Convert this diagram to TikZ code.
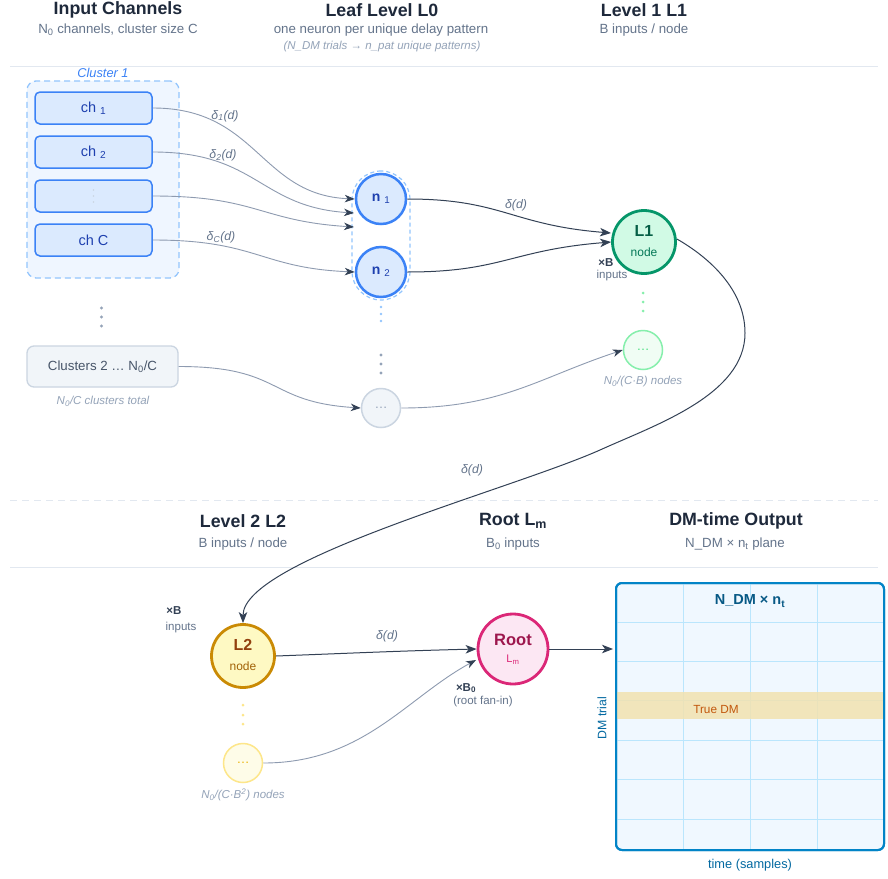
\documentclass[tikz,border=0pt]{standalone}
\usepackage{fontspec}
\setmainfont{Liberation Sans}
\usetikzlibrary{arrows.meta,calc}

\definecolor{ink}{HTML}{1E293B}
\definecolor{subgray}{HTML}{64748B}
\definecolor{notegray}{HTML}{94A3B8}
\definecolor{rulegray}{HTML}{E2E8F0}
\definecolor{edgegray}{HTML}{8E9BB0}
\definecolor{edgedark}{HTML}{334155}
\definecolor{blueA}{HTML}{3B82F6}
\definecolor{blueB}{HTML}{DBEAFE}
\definecolor{blueC}{HTML}{93C5FD}
\definecolor{blueD}{HTML}{EFF6FF}
\definecolor{blueT}{HTML}{1E40AF}
\definecolor{slateF}{HTML}{F1F5F9}
\definecolor{slateS}{HTML}{CBD5E1}
\definecolor{slateT}{HTML}{475569}
\definecolor{greenS}{HTML}{059669}
\definecolor{greenF}{HTML}{D1FAE5}
\definecolor{greenT}{HTML}{065F46}
\definecolor{greenU}{HTML}{047857}
\definecolor{greenL}{HTML}{86EFAC}
\definecolor{greenP}{HTML}{F0FDF4}
\definecolor{greenX}{HTML}{4ADE80}
\definecolor{yelS}{HTML}{CA8A04}
\definecolor{yelF}{HTML}{FEF9C3}
\definecolor{yelT}{HTML}{92400E}
\definecolor{yelU}{HTML}{A16207}
\definecolor{yelL}{HTML}{FDE68A}
\definecolor{yelP}{HTML}{FEFCE8}
\definecolor{yelX}{HTML}{EAB308}
\definecolor{pinkS}{HTML}{DB2777}
\definecolor{pinkF}{HTML}{FCE7F3}
\definecolor{pinkT}{HTML}{9D174D}
\definecolor{gridS}{HTML}{0284C7}
\definecolor{gridF}{HTML}{F0F8FF}
\definecolor{gridL}{HTML}{BAE6FD}
\definecolor{gridT}{HTML}{075985}
\definecolor{gridA}{HTML}{0369A1}
\definecolor{bandF}{HTML}{F2E2B0}
\definecolor{bandT}{HTML}{C2570C}

\newcommand{\fsz}[1]{\fontsize{#1}{#1}\selectfont}

\begin{document}
\begin{tikzpicture}[x=1pt,y=-1pt,
  hdr/.style={font=\fsz{17.8}\bfseries, text=ink, inner sep=0pt},
  subhdr/.style={font=\fsz{13.3}, text=subgray, inner sep=0pt},
  note/.style={font=\fsz{11.5}\itshape, text=notegray, inner sep=0pt},
  dlabel/.style={font=\fsz{12.3}\itshape, text=subgray, inner sep=0pt},
  tiny/.style={font=\fsz{11.5}, text=subgray, inner sep=0pt},
  tinyb/.style={font=\fsz{11.5}\bfseries, text=edgedark, inner sep=0pt},
  clusterbox/.style={draw=blueC, fill=blueD, dashed, dash pattern=on 6pt off 4pt,
    line width=1.3pt, rounded corners=9pt, minimum width=152pt, minimum height=197pt},
  chbox/.style={draw=blueA, fill=blueB, line width=1.5pt, rounded corners=5pt,
    minimum width=117pt, minimum height=32pt, font=\fsz{14.5}, text=blueT},
  restbox/.style={draw=slateS, fill=slateF, line width=1.3pt, rounded corners=7pt,
    minimum width=151pt, minimum height=41pt, font=\fsz{13.3}, text=slateT},
  leaf/.style={circle, draw=blueA, fill=blueB, line width=2.5pt, minimum size=50pt,
    inner sep=0pt, font=\fsz{14}, text=blueT},
  capsule/.style={draw=blueC, dashed, dash pattern=on 4pt off 3pt, line width=1.2pt,
    rounded corners=28.9pt, minimum width=58pt, minimum height=129pt},
  ghost/.style={circle, line width=1.5pt, minimum size=39pt, inner sep=0pt, font=\fsz{13}},
  big/.style={circle, line width=2.8pt, minimum size=63pt, inner sep=0pt},
  inedge/.style={draw=edgegray, line width=0.9pt, -{Stealth[length=10pt,width=7.5pt,inset=3pt,fill=edgedark,color=edgedark]}},
  outedge/.style={draw=edgedark, line width=1pt, -{Stealth[length=11pt,width=8.5pt,inset=3pt]}},
]
\useasboundingbox (0,0) rectangle (888,878);
\fill[white] (0,0) rectangle (888,878);

% ---------- column headings, upper band
\node[hdr] (hIn) at (118,10) {Input Channels};
\node[subhdr] (sIn) at (118,30) {N\textsubscript{0} channels, cluster size C};
\node[hdr] (hL0) at (382,10) {Leaf Level L0};
\node[subhdr] (sL0) at (381,30) {one neuron per unique delay pattern};
\node[note] (nL0) at (382,47) {(N\_DM trials → n\_pat unique patterns)};
\node[hdr] (hL1) at (644,10) {Level 1 L1};
\node[subhdr] (sL1) at (644,30) {B inputs / node};
\draw[rulegray, line width=1pt] (10,66) -- (878,66);

% ---------- input channels
\node[clusterbox] (cl1) at (103,179.5) {};
\node[font=\fsz{12.8}\itshape, text=blueA, inner sep=0pt] (cl1lbl) at (103,73) {Cluster 1};
\node[chbox] (ch1) at (93.5,108) {ch \textsubscript{1}};
\node[chbox] (ch2) at (93.5,152) {ch \textsubscript{2}};
\node[chbox] (chd) at (93.5,196) {};
\node[chbox] (chC) at (93.5,240) {ch C};
\foreach \yy in {-6,0,6} \fill[slateS] ($(chd.center)+(0,\yy)$) circle (0.9pt);
\foreach \yy in {308,317,326} \fill[notegray] (101.5,\yy) circle (1.7pt);
\node[restbox] (rest) at (102.5,366.5) {Clusters 2 … N\textsubscript{0}/C};
\node[note] (restlbl) at (103,401) {N\textsubscript{0}/C clusters total};

% ---------- leaf level
\node[capsule] (cap) at (381,235.5) {};
\node[leaf] (n1) at (381,199) {\textbf{n} \textsubscript{1}};
\node[leaf] (n2) at (381,272) {\textbf{n} \textsubscript{2}};
\foreach \yy in {307,314,321} \fill[blueC] (381,\yy) circle (1.3pt);
\foreach \yy in {355,364,373} \fill[notegray] (381,\yy) circle (1.7pt);
\node[ghost, draw=slateS, fill=slateF, text=notegray] (leafx) at (381,408) {…};

\coordinate (a2) at (354,213);
\coordinate (a3) at (354,227);
\draw[inedge] (ch1.east) .. controls +(105,0) and +(-95,-4) .. (n1.west);
\draw[inedge] (ch2.east) .. controls +(105,0) and +(-95,-6) .. (a2);
\draw[inedge] (chd.east) .. controls +(105,0) and +(-95,-6) .. (a3);
\draw[inedge] (chC.east) .. controls +(105,0) and +(-95,-4) .. (n2.west);
\node[dlabel] (d1) at (225,116) {δ\textsubscript{1}(d)};
\node[dlabel] (d2) at (223,155) {δ\textsubscript{2}(d)};
\node[dlabel] (dC) at (221,237) {δ\textsubscript{C}(d)};
\draw[inedge] (rest.east) .. controls +(105,0) and +(-95,-6) .. (leafx.west);

% ---------- level 1
\node[big, draw=greenS, fill=greenF] (L1) at (644,242) {};
\node[font=\fsz{16}\bfseries, text=greenT, inner sep=0pt] (L1t) at (644,231) {L1};
\node[font=\fsz{12}, text=greenU, inner sep=0pt] (L1s) at (644,252) {node};
\coordinate (b1) at (611,233);
\draw[outedge] (n1.east) .. controls +(95,0) and +(-100,-8) .. (b1);
\draw[outedge] (n2.east) .. controls +(95,0) and +(-100,8) .. (L1.west);
\node[dlabel] (dL1) at (516,205) {δ(d)};
\node[tinyb] (xB1) at (606,263) {×B};
\node[tiny] (in1) at (612,276) {inputs};
\foreach \yy in {293,302,311} \fill[greenL] (643,\yy) circle (1.5pt);
\node[ghost, draw=greenL, fill=greenP, text=greenX] (L1x) at (643,350) {…};
\node[note] (L1xl) at (643,382) {N\textsubscript{0}/(C·B) nodes};
\draw[inedge] (leafx.east) .. controls +(100,0) and +(-85,28) .. (L1x.west);

% ---------- band separator
\draw[rulegray, line width=1pt, dash pattern=on 7pt off 5pt] (10,500) -- (878,500);

% ---------- column headings, lower band
\node[hdr] (hL2) at (243,521) {Level 2 L2};
\node[subhdr] (sL2) at (243,544) {B inputs / node};
\node[hdr] (hLm) at (513,521) {Root L\textsubscript{m}};
\node[subhdr] (sLm) at (513,544) {B\textsubscript{0} inputs};
\node[hdr] (hOut) at (736,521) {DM-time Output};
\node[subhdr] (sOut) at (735,544) {N\_DM × n\textsubscript{t} plane};
\draw[rulegray, line width=1pt] (10,567) -- (878,567);

% ---------- level 2
\node[big, draw=yelS, fill=yelF] (L2) at (243,656) {};
\node[font=\fsz{16}\bfseries, text=yelT, inner sep=0pt] (L2t) at (243,645) {L2};
\node[font=\fsz{12}, text=yelU, inner sep=0pt] (L2s) at (243,666) {node};
\node[tinyb] (xB2) at (174,611) {×B};
\node[tiny] (in2) at (181,628) {inputs};
\foreach \yy in {705,715,724} \fill[yelL] (243,\yy) circle (1.5pt);
\node[ghost, draw=yelL, fill=yelP, text=yelX] (L2x) at (243,763) {…};
\node[note] (L2xl) at (243,795) {N\textsubscript{0}/(C·B\textsuperscript{2}) nodes};

% long hop from level 1 down to level 2
\coordinate (k1) at (745,333);
\coordinate (k2) at (600,450);
\draw[outedge] ($(L1.east)+(0,-3)$) .. controls (710,258) and (745,290) .. (k1)
  .. controls (745,395) and (655,425) .. (k2)
  .. controls (510,490) and (243,560) .. (L2.north);
\node[dlabel] (dL12) at (472,470) {δ(d)};

% ---------- root
\node[big, draw=pinkS, fill=pinkF, minimum size=70pt] (root) at (513,649) {};
\node[font=\fsz{16.5}\bfseries, text=pinkT, inner sep=0pt] (roott) at (513,640) {Root};
\node[font=\fsz{11}, text=pinkS, inner sep=0pt] (roots) at (513,660) {L\textsubscript{m}};
\coordinate (r2) at (476,660);
\draw[outedge] (L2.east) .. controls +(80,-3) and +(-80,2) .. (root.west);
\node[dlabel] (dL2) at (387,636) {δ(d)};
\draw[inedge] (L2x.east) .. controls +(100,0) and +(-70,38) .. (r2);
\node[tinyb] (xB0) at (466,688) {×B\textsubscript{0}};
\node[tiny] (fanin) at (483,702) {(root fan-in)};

% ---------- DM-time plane
\node[draw=gridS, fill=gridF, line width=2pt, rounded corners=6pt,
      minimum width=268pt, minimum height=267pt] (grid) at (750,716.5) {};
\foreach \xx in {683,750.5,817.5} \draw[gridL, line width=0.9pt] (\xx,584) -- (\xx,849);
\foreach \yy in {622,661,700,740,779,819} \draw[gridL, line width=0.9pt] (617,\yy) -- (883,\yy);
\fill[bandF, opacity=0.85] (617,692) rectangle (883,719);
\node[draw=gridS, line width=2pt, rounded corners=6pt,
      minimum width=268pt, minimum height=267pt] (gridrim) at (750,716.5) {};
\node[font=\fsz{11.8}, text=bandT, inner sep=0pt] (truedm) at (716,709) {True DM};
\node[font=\fsz{14.5}\bfseries, text=gridT, inner sep=0pt] (gridt) at (750,601) {N\_DM × n\textsubscript{t}};
\node[font=\fsz{12.3}, text=gridA, inner sep=0pt, rotate=90] (ylab) at (602,718) {DM trial};
\node[font=\fsz{12.8}, text=gridA, inner sep=0pt] (xlab) at (750,865) {time (samples)};
\draw[outedge] (root.east) -- ($(grid.west)+(-2,-67.5)$);
\end{tikzpicture}
\end{document}
